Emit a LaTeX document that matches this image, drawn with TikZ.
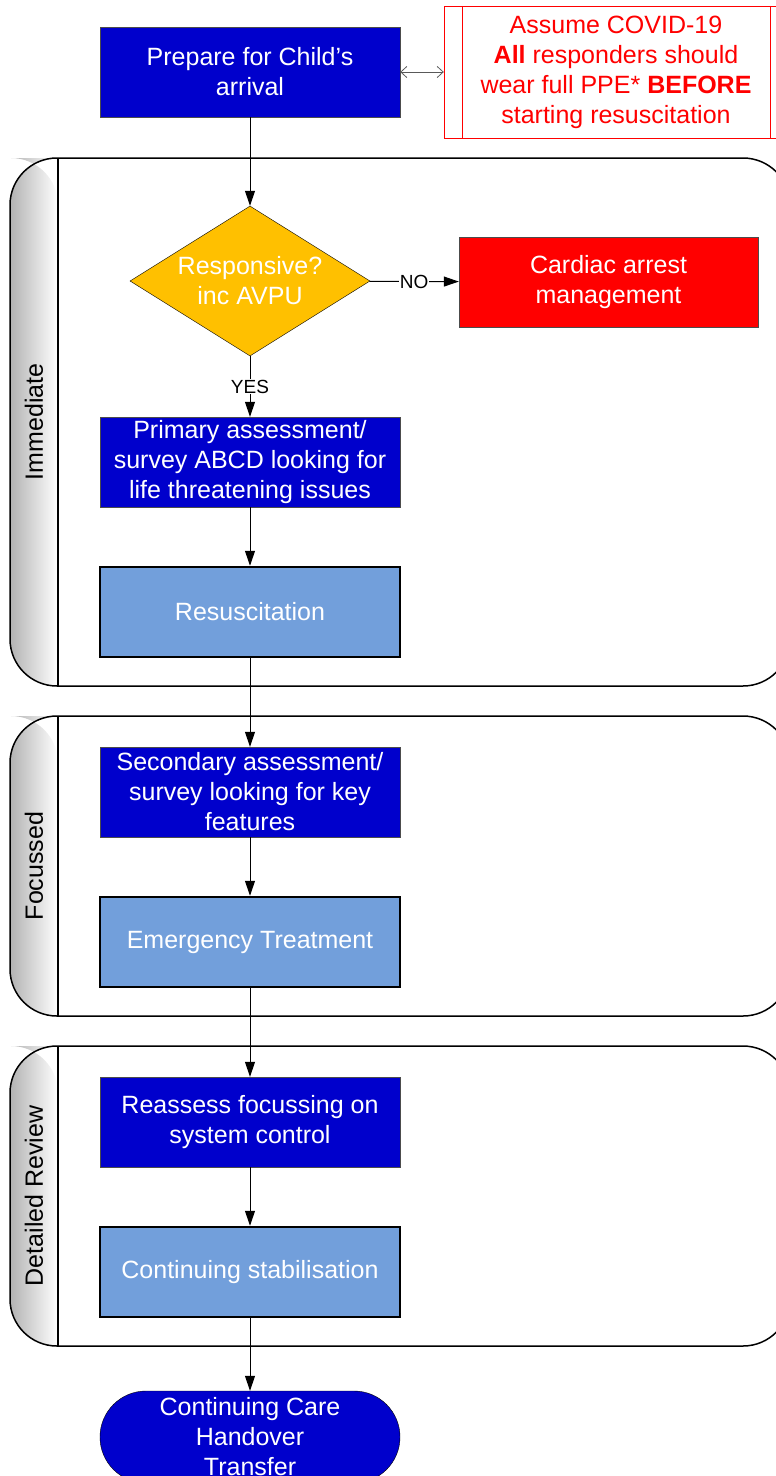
\documentclass[tikz,border=0pt]{standalone}
\usepackage{fontspec}
\setmainfont{Liberation Sans}
\usepackage{xcolor}
\usetikzlibrary{shapes.geometric,arrows.meta}
\definecolor{darkblue}{RGB}{0,0,204}
\definecolor{paleblue}{RGB}{114,159,219}
\definecolor{amber}{RGB}{255,192,0}

\begin{document}
\begin{tikzpicture}[x=1pt,y=-1pt, font=\fontsize{25}{30}\selectfont,
	darkbox/.style={rectangle,draw=gray!60!black,fill=darkblue,text=white,align=center,minimum width=300pt,minimum height=90pt,inner sep=0pt},
	lightbox/.style={rectangle,draw=black,line width=2.5pt,fill=paleblue,text=white,align=center,minimum width=300pt,minimum height=90pt,inner sep=0pt},
	decision/.style={diamond,draw=black,fill=amber,text=white,align=center,minimum width=240pt,minimum height=150pt,inner sep=0pt,aspect=1.6},
	flow/.style={-{Triangle[length=15pt,width=10pt]},line width=1pt},
	flowlabel/.style={fill=white,inner sep=1pt,font=\fontsize{19}{22}\selectfont},
	lane/.style={line width=1.5pt,rounded corners=47pt},
	lanetext/.style={rotate=90}]
		\useasboundingbox (0,0) rectangle (776,1476);
		\clip (0,0) rectangle (776,1476);
		\foreach \ya/\yb in {158/686,716/1016,1046/1346}{
			\shade[left color=gray!60,right color=white,rounded corners=47pt] (58,\yb) -- (10,\yb) -- (10,\ya) -- (58,\ya) [sharp corners] -- cycle;
			\draw[lane] (10,\ya) rectangle (790,\yb);
			\draw[line width=1.5pt] (58,\ya) -- (58,\yb);
		}
		\node[lanetext] (immediate) at (34,422) {Immediate};
		\node[lanetext] (focussed) at (34,866) {Focussed};
		\node[lanetext] (review) at (34,1196) {Detailed Review};
		\node[darkbox] (prep) at (250,72) {Prepare for Child’s\\arrival};
		\node[rectangle,draw=red,fill=white,text=red,align=center,minimum width=344pt,minimum height=132pt,inner sep=0pt] (covid) at (616,72) {Assume COVID-19\\\textbf{All} responders should\\wear full PPE* \textbf{BEFORE}\\starting resuscitation};
		\draw[red] ([xshift=18pt]covid.north west) -- ([xshift=18pt]covid.south west);
		\draw[red] ([xshift=-18pt]covid.north east) -- ([xshift=-18pt]covid.south east);
		\node[decision] (resp) at (250,281) {Responsive?\\inc AVPU};
		\node[darkbox,fill=red,minimum width=299pt] (cardiac) at (608.5,282) {Cardiac arrest\\management};
		\node[darkbox] (primary) at (250,462) {Primary assessment/\\survey ABCD looking for\\life threatening issues};
		\node[lightbox] (resus) at (250,612) {Resuscitation};
		\node[darkbox] (second) at (250,792) {Secondary assessment/\\survey looking for key\\features};
		\node[lightbox] (emerg) at (250,942) {Emergency Treatment};
		\node[darkbox] (reassess) at (250,1122) {Reassess focussing on\\system control};
		\node[lightbox] (stab) at (250,1272) {Continuing stabilisation};
		\node[darkbox,draw=black,rounded corners=46pt,minimum height=92pt] (term) at (250,1437) {Continuing Care\\Handover\\Transfer};
		\draw[{Straight Barb[length=6pt,width=11pt]}-{Straight Barb[length=6pt,width=11pt]},gray!70!black,line width=0.8pt] (prep) -- (covid);
		\draw[flow] (prep) -- (resp);
		\draw[flow] (resp) -- node[flowlabel] {NO} (cardiac);
		\draw[flow] (resp) -- node[flowlabel] {YES} (primary);
		\draw[flow] (primary) -- (resus);
		\draw[flow] (resus) -- (second);
		\draw[flow] (second) -- (emerg);
		\draw[flow] (emerg) -- (reassess);
		\draw[flow] (reassess) -- (stab);
		\draw[flow] (stab) -- (term);
\end{tikzpicture}
\end{document}
